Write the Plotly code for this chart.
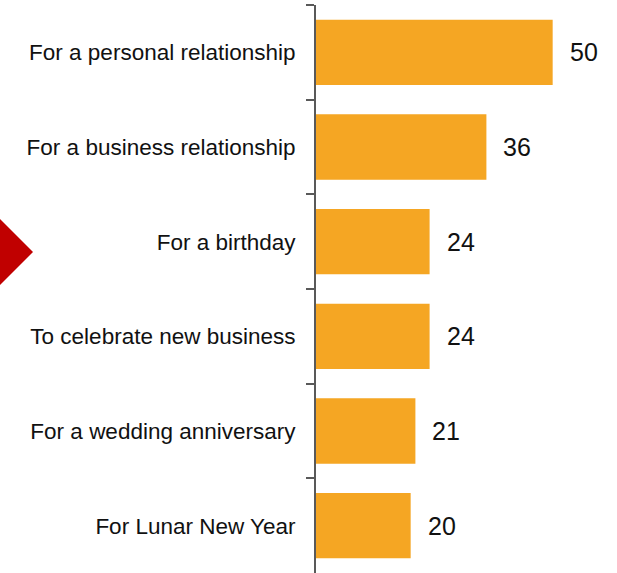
import plotly.graph_objects as go

categories = ["For a personal relationship", "For a business relationship", "For a birthday",
              "To celebrate new business", "For a wedding anniversary", "For Lunar New Year"]
values = [50, 36, 24, 24, 21, 20]

BAR_COLOR = "#F5A623"
W, H = 617, 573
ML, MR, MT, MB = 316, 17, 5, 0
PW, PH = W - ML - MR, H - MT - MB

def px_x(p):
    return (p - ML) / PW

def px_y(p):
    return 1 - (p - MT) / PH

FONT = "Liberation Sans, Arial, sans-serif"

fig = go.Figure(go.Bar(
    y=categories, x=values, orientation="h",
    marker=dict(color=BAR_COLOR, line=dict(width=0)),
    hoverinfo="skip",
))

for c, v in zip(categories, values):
    fig.add_annotation(x=v, y=c, text=str(v), showarrow=False, xanchor="left",
                       xshift=15, font=dict(size=25, color="#111111", family=FONT))

# red marker on the left edge
path = "M {:.4f} {:.4f} L {:.4f} {:.4f} L {:.4f} {:.4f} Z".format(
    px_x(-6), px_y(213), px_x(33), px_y(252), px_x(-6), px_y(291))
fig.add_shape(type="path", xref="paper", yref="paper", path=path,
              fillcolor="#C00000", line=dict(width=0), layer="above")

fig.update_layout(
    width=W, height=H,
    margin=dict(l=ML, r=MR, t=MT, b=MB, autoexpand=False),
    plot_bgcolor="white", paper_bgcolor="white",
    showlegend=False, bargap=0.31,
    font=dict(family=FONT, size=22, color="#111111"),
    xaxis=dict(range=[0, 60], visible=False, fixedrange=True),
    yaxis=dict(autorange="reversed", type="category", showline=True, linecolor="#595959", linewidth=2,
               ticks="outside", tickson="boundaries", ticklen=8, tickcolor="#595959", tickwidth=2,
               ticklabelstandoff=14, showgrid=False, zeroline=False, automargin=False,
               tickfont=dict(size=22.5, color="#111111", family=FONT)),
)

fig.write_html("out.html", config={"displayModeBar": False},
               post_script="document.body.style.margin='0';document.body.style.overflow='hidden';")
